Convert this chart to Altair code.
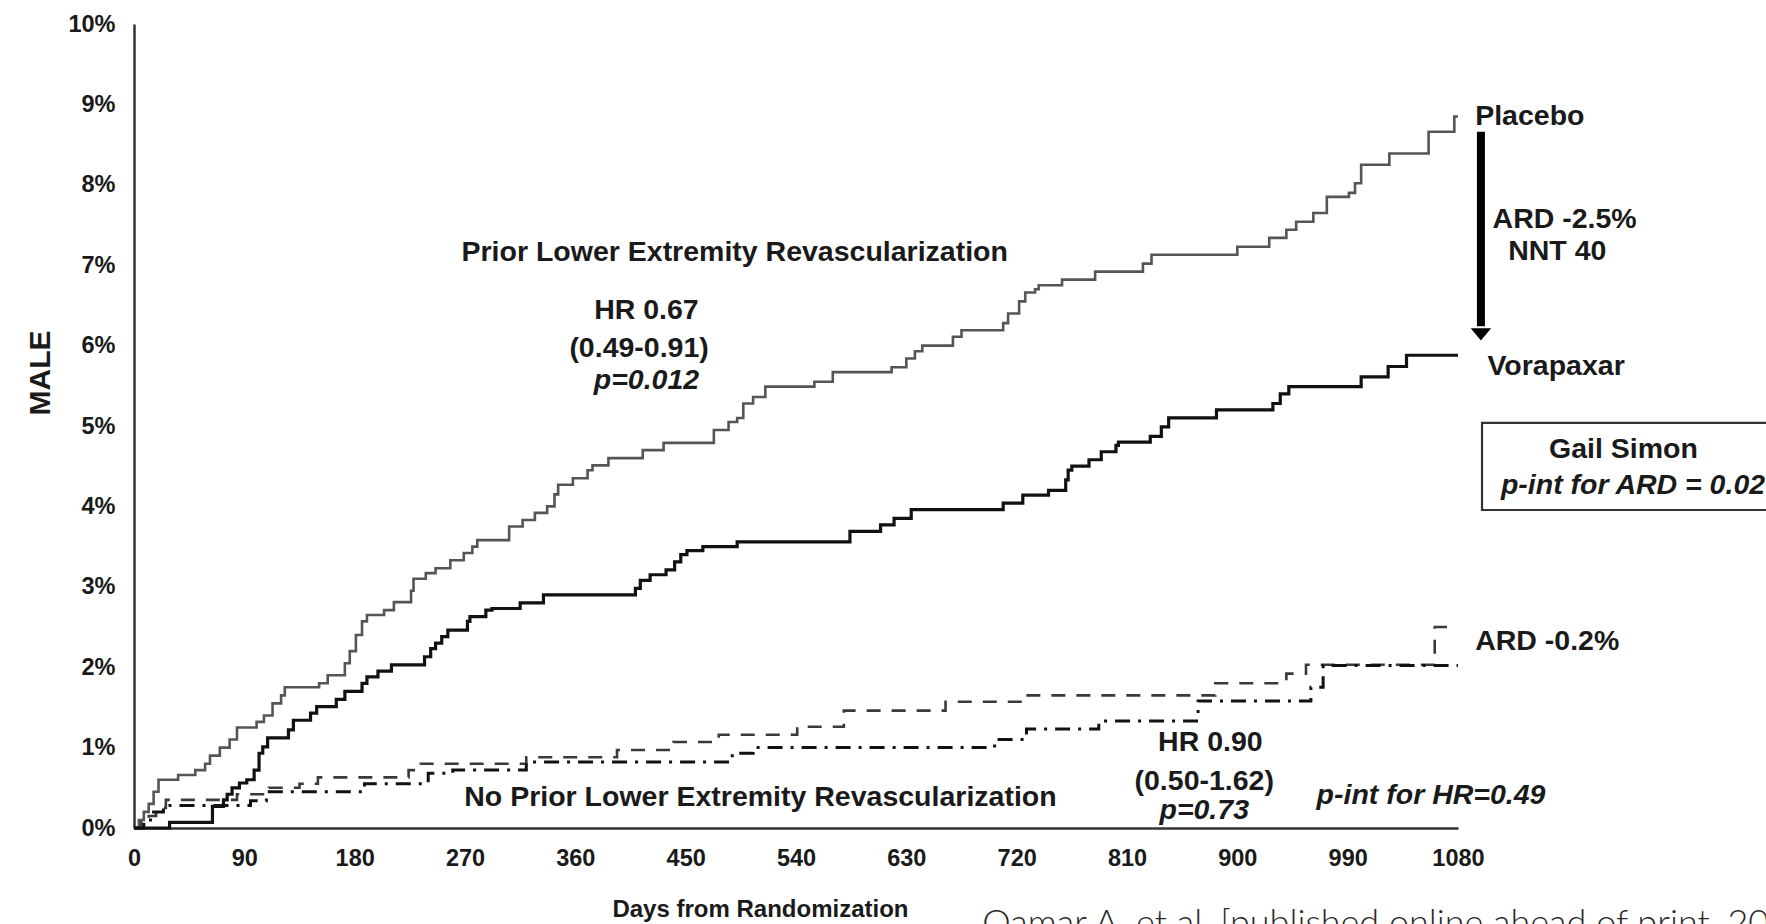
import altair as alt
import pandas as pd

# ---------------- data ----------------
x_ticks = [0, 90, 180, 270, 360, 450, 540, 630, 720, 810, 900, 990, 1080]
y_ticks = [0, 1, 2, 3, 4, 5, 6, 7, 8, 9, 10]

# Prior lower-extremity revascularization - Placebo (grey solid)
plc_prior_day = [0, 4, 8, 12, 16, 20, 36, 50, 58, 62, 70, 78, 84, 100, 106, 113, 120, 123,
                 151, 158, 172, 176, 181, 186, 190, 204, 212, 226, 228, 238, 246, 258, 269,
                 276, 280, 306, 317, 327, 337, 343, 346, 358, 370, 374, 387, 415, 432, 473,
                 485, 492, 497, 505, 515, 555, 570, 618, 630, 637, 643, 668, 675, 709, 713,
                 722, 727, 735, 738, 757, 784, 823, 830, 900, 926, 940, 948, 962, 973, 991,
                 996, 1001, 1024, 1056, 1077, 1080]
plc_prior_pct = [0, 0.1, 0.2, 0.3, 0.45, 0.6, 0.66, 0.72, 0.8, 0.9, 1.0, 1.1, 1.25, 1.32, 1.4,
                 1.55, 1.65, 1.75, 1.8, 1.9, 2.05, 2.2, 2.4, 2.57, 2.65, 2.71, 2.81, 2.95, 3.1,
                 3.17, 3.23, 3.33, 3.42, 3.5, 3.58, 3.75, 3.83, 3.92, 4.0, 4.15, 4.27, 4.35,
                 4.45, 4.51, 4.6, 4.7, 4.79, 4.95, 5.05, 5.1, 5.28, 5.36, 5.49, 5.55, 5.67,
                 5.73, 5.84, 5.93, 6.0, 6.11, 6.19, 6.28, 6.4, 6.55, 6.66, 6.7, 6.75, 6.82,
                 6.92, 7.02, 7.13, 7.23, 7.34, 7.44, 7.54, 7.65, 7.85, 7.9, 8.02, 8.25, 8.39,
                 8.66, 8.85, 8.85]

# Prior lower-extremity revascularization - Vorapaxar (black solid)
vor_prior_day = [0, 29, 64, 73, 76, 80, 86, 92, 98, 102, 105, 109, 126, 130, 144, 149, 165,
                 172, 186, 190, 199, 210, 237, 242, 246, 251, 256, 272, 274, 287, 292, 315,
                 334, 409, 413, 421, 434, 441, 446, 451, 464, 492, 584, 609, 620, 634, 709,
                 725, 746, 760, 762, 765, 779, 789, 801, 803, 829, 838, 844, 883, 929, 935,
                 942, 1001, 1023, 1038, 1080]
vor_prior_pct = [0, 0.07, 0.27, 0.35, 0.42, 0.5, 0.56, 0.6, 0.72, 0.93, 1.01, 1.12, 1.22,
                 1.34, 1.43, 1.51, 1.6, 1.7, 1.8, 1.88, 1.95, 2.03, 2.13, 2.23, 2.3, 2.38,
                 2.46, 2.57, 2.63, 2.71, 2.73, 2.8, 2.9, 2.98, 3.08, 3.15, 3.21, 3.31, 3.4,
                 3.45, 3.5, 3.56, 3.69, 3.77, 3.85, 3.96, 4.04, 4.14, 4.2, 4.33, 4.45, 4.5,
                 4.58, 4.68, 4.76, 4.8, 4.87, 4.99, 5.1, 5.2, 5.28, 5.4, 5.49, 5.61, 5.74,
                 5.88, 5.88]

# No prior revascularization - Placebo (dashed)
plc_no_day = [0, 6, 12, 18, 26, 84, 110, 135, 150, 224, 234, 320, 394, 440, 477, 541, 579,
              662, 727, 882, 940, 956, 1061, 1075]
plc_no_pct = [0, 0.07, 0.15, 0.25, 0.35, 0.42, 0.5, 0.55, 0.63, 0.72, 0.8, 0.88, 0.97, 1.07,
              1.16, 1.26, 1.46, 1.57, 1.65, 1.8, 1.92, 2.03, 2.5, 2.5]

# No prior revascularization - Vorapaxar (dash-dot)
vor_no_day = [0, 8, 16, 24, 95, 108, 188, 240, 260, 320, 488, 505, 702, 728, 787, 868, 960,
              970, 1080]
vor_no_pct = [0, 0.1, 0.2, 0.28, 0.34, 0.45, 0.55, 0.68, 0.72, 0.82, 0.93, 1.0, 1.1, 1.23,
              1.33, 1.58, 1.75, 2.02, 2.02]

# annotation texts with anchor positions in data units (day, %)
ann_center_bold = [
    ("Prior Lower Extremity Revascularization", 490, 7.16),
    ("HR 0.67", 418, 6.44),
    ("(0.49-0.91)", 412, 5.97),
    ("ARD -2.5%", 1167, 7.58),
    ("NNT 40", 1161, 7.18),
    ("Gail Simon", 1215, 4.71),
    ("HR 0.90", 878, 1.07),
    ("(0.50-1.62)", 873, 0.585),
    ("No Prior Lower Extremity Revascularization", 511, 0.39),
]
ann_center_italic = [
    ("p=0.012", 418, 5.57),
    ("p=0.73", 873, 0.22),
    ("p-int for HR=0.49", 1058, 0.41),
]
ann_left_bold = [
    ("Placebo", 1094, 8.86),
    ("Vorapaxar", 1104, 5.75),
    ("ARD -0.2%", 1094, 2.33),
]
ann_left_italic = [
    ("p-int for ARD = 0.027", 1115, 4.27),
]
x_title = [("Days from Randomization", 511, -1.02)]
y_title = [("MALE", -76, 5.66)]
citation = [("Qamar A, et al. [published online ahead of print, 2020]", 692, -1.33)]

arrow = [(1098.7, 8.66, 6.24)]
arrow_head = [(1098.7, 6.14)]
box = [(1099.6, 1700, 5.04, 3.955)]

FONT = "Liberation Sans"
INK = "#1a1a1a"
ANN = 28.5


def line_df(days, pct):
    return pd.DataFrame({"day": days, "pct": pct})


def text_df(rows):
    return pd.DataFrame(rows, columns=["label", "day", "pct"])


xscale = alt.Scale(domain=[0, 1080], nice=False, zero=False)
yscale = alt.Scale(domain=[0, 10], nice=False, zero=False)

X = alt.X("day:Q", scale=xscale, title=None,
          axis=alt.Axis(values=x_ticks, format="d", ticks=False, grid=False, labelPadding=18,
                        labelFont=FONT, labelFontWeight="bold", labelFontSize=23.5,
                        labelColor=INK, domainColor="#333333", domainWidth=2.5,
                        labelFlush=False))
Y = alt.Y("pct:Q", scale=yscale, title=None,
          axis=alt.Axis(values=y_ticks, ticks=False, grid=False, labelPadding=19,
                        labelExpr="datum.value + '%'",
                        labelFont=FONT, labelFontWeight="bold", labelFontSize=23.5,
                        labelColor=INK, domainColor="#333333", domainWidth=2.5,
                        labelFlush=False))

plc_prior = alt.Chart(line_df(plc_prior_day, plc_prior_pct)).mark_line(
    interpolate="step-after", color="#555555", strokeWidth=2.6).encode(x=X, y=Y)
vor_prior = alt.Chart(line_df(vor_prior_day, vor_prior_pct)).mark_line(
    interpolate="step-after", color="#111111", strokeWidth=3.2).encode(x="day:Q", y="pct:Q")
plc_no = alt.Chart(line_df(plc_no_day, plc_no_pct)).mark_line(
    interpolate="step-after", color="#3a3a3a", strokeWidth=2.6,
    strokeDash=[14, 11]).encode(x="day:Q", y="pct:Q")
vor_no = alt.Chart(line_df(vor_no_day, vor_no_pct)).mark_line(
    interpolate="step-after", color="#111111", strokeWidth=3,
    strokeDash=[15, 8, 3, 8]).encode(x="day:Q", y="pct:Q")


def texts(rows, align, size=ANN, style="normal", weight="bold", font=FONT,
          angle=0, baseline="middle", color=INK):
    kw = dict(align=align, baseline=baseline, font=font, fontSize=size,
              fontWeight=weight, fontStyle=style, color=color)
    if angle:
        kw["angle"] = angle
    return alt.Chart(text_df(rows)).mark_text(**kw).encode(
        x="day:Q", y="pct:Q", text="label:N")


t1 = texts(ann_center_bold, "center")
t2 = texts(ann_center_italic, "center", style="italic")
t3 = texts(ann_left_bold, "left")
t4 = texts(ann_left_italic, "left", style="italic")
t5 = texts(x_title, "center", size=24)
t6 = texts(y_title, "center", size=30, angle=270)
t7 = texts(citation, "left", size=36, weight=300, font="Lato", baseline="alphabetic",
           color="#2a2a2a")

arrow_df = pd.DataFrame(arrow, columns=["day", "pct", "pct2"])
shaft = alt.Chart(arrow_df).mark_rule(color="#000000", strokeWidth=8).encode(
    x="day:Q", y="pct:Q", y2="pct2:Q")
head = alt.Chart(pd.DataFrame(arrow_head, columns=["day", "pct"])).mark_point(
    shape="M -1 -0.6 L 1 -0.6 L 0 0.6 Z", filled=True, size=420, color="#000000",
    opacity=1).encode(x="day:Q", y="pct:Q")

box_df = pd.DataFrame(box, columns=["day", "day2", "pct", "pct2"])
frame = alt.Chart(box_df).mark_rect(fillOpacity=0, stroke="#333333", strokeWidth=2.2).encode(
    x="day:Q", x2="day2:Q", y="pct:Q", y2="pct2:Q")

chart = alt.layer(
    plc_prior, vor_prior, plc_no, vor_no, shaft, head, frame,
    t1, t2, t3, t4, t5, t6, t7,
).properties(
    width=1324, height=804,
    autosize=alt.AutoSizeParams(type="none"),
    padding={"left": 134, "top": 24, "right": 308, "bottom": 96},
    background="white",
).configure_view(strokeWidth=0)

chart.save("out.html", embed_options={"renderer": "svg", "actions": False})
